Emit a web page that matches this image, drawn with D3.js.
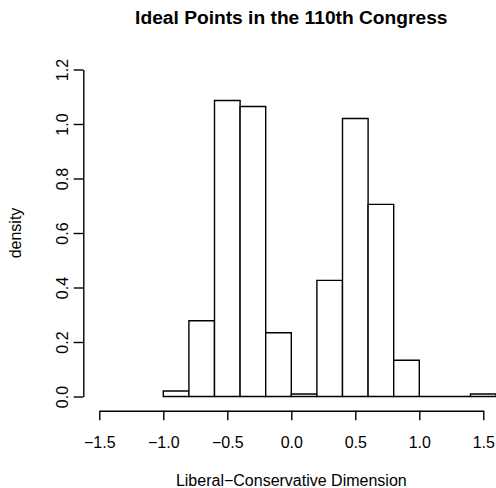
<!DOCTYPE html>
<html>
  <head>
    <meta charset="utf-8">
    <script src="https://d3js.org/d3.v7.min.js"></script>
  </head>
  <body>
    <svg id="viz"></svg>
  </body>
  <script>
    // histogram bins (width 0.2) and their densities
    const breaks = [-1.0, -0.8, -0.6, -0.4, -0.2, 0.0, 0.2, 0.4, 0.6, 0.8, 1.0, 1.2, 1.4, 1.6];
    const density = [0.020, 0.278, 1.086, 1.064, 0.234, 0.009, 0.426, 1.020, 0.705, 0.133, 0, 0, 0.009];
    const xTicks = [-1.5, -1.0, -0.5, 0.0, 0.5, 1.0, 1.5];
    const yTicks = [0.0, 0.2, 0.4, 0.6, 0.8, 1.0, 1.2];
    const title = "Ideal Points in the 110th Congress";
    const xLabel = "Liberal\u2212Conservative Dimension";
    const yLabel = "density";

    function draw() {
      const svg = d3.select("svg#viz");
      const width = 496;
      const height = 488;
      svg.attr("width", width).attr("height", height);
      const font = "'Liberation Sans', Arial, Helvetica, sans-serif";

      const xScale = d3.scaleLinear().domain([-1.5, 1.5]).range([99.3, 483.3]);
      const yScale = d3.scaleLinear().domain([0, 1.2]).range([396.5, 69.5]);
      const xAxisY = 410.7;
      const yAxisX = 83.3;

      const bins = density.map((d, i) => ({ x0: breaks[i], x1: breaks[i + 1], d: d }));

      svg
        .selectAll("path.bar")
        .data(bins)
        .join("path")
        .attr("class", "bar")
        .attr("d", (b) => {
          const x0 = xScale(b.x0), x1 = xScale(b.x1);
          const y0 = yScale(0), y1 = yScale(b.d);
          return `M${x0},${y0}V${y1}H${x1}V${y0}Z`;
        })
        .attr("fill", "white")
        .attr("stroke", "black")
        .attr("stroke-width", 1.4);

      // d3.format already writes a real minus sign (U+2212)
      const fmt = d3.format(".1f");

      const xAxis = svg
        .append("g")
        .attr("transform", `translate(0,${xAxisY})`)
        .call(d3.axisBottom(xScale).tickValues(xTicks).tickSize(9.6).tickSizeOuter(0).tickFormat(fmt));
      const yAxis = svg
        .append("g")
        .attr("transform", `translate(${yAxisX},0)`)
        .call(d3.axisLeft(yScale).tickValues(yTicks).tickSize(9.6).tickSizeOuter(0).tickFormat(fmt));

      [xAxis, yAxis].forEach((g) => {
        g.selectAll("path, line").attr("stroke", "black").attr("stroke-width", 1.4);
        g.selectAll("text").attr("fill", "black").style("font-family", font).style("font-size", "16px");
      });
      xAxis.selectAll("text").attr("y", 37.8).attr("dy", null);
      yAxis
        .selectAll("text")
        .attr("x", null)
        .attr("dy", null)
        .attr("text-anchor", "middle")
        .attr("transform", "translate(-15,0) rotate(-90)");

      svg
        .append("text")
        .attr("x", 291.3)
        .attr("y", 23.5)
        .attr("text-anchor", "middle")
        .style("font-family", font)
        .style("font-size", "19.2px")
        .style("font-weight", "bold")
        .text(title);

      svg
        .append("text")
        .attr("x", 291.3)
        .attr("y", 485.5)
        .attr("text-anchor", "middle")
        .style("font-family", font)
        .style("font-size", "16px")
        .text(xLabel);

      svg
        .append("text")
        .attr("transform", `translate(21.2,${yScale(0.6)}) rotate(-90)`)
        .attr("text-anchor", "middle")
        .style("font-family", font)
        .style("font-size", "16px")
        .text(yLabel);
    }

    draw();
  </script>
  <style>
    body {
      margin: 0px;
    }
    svg {
      display: block;
    }
  </style>
</html>
